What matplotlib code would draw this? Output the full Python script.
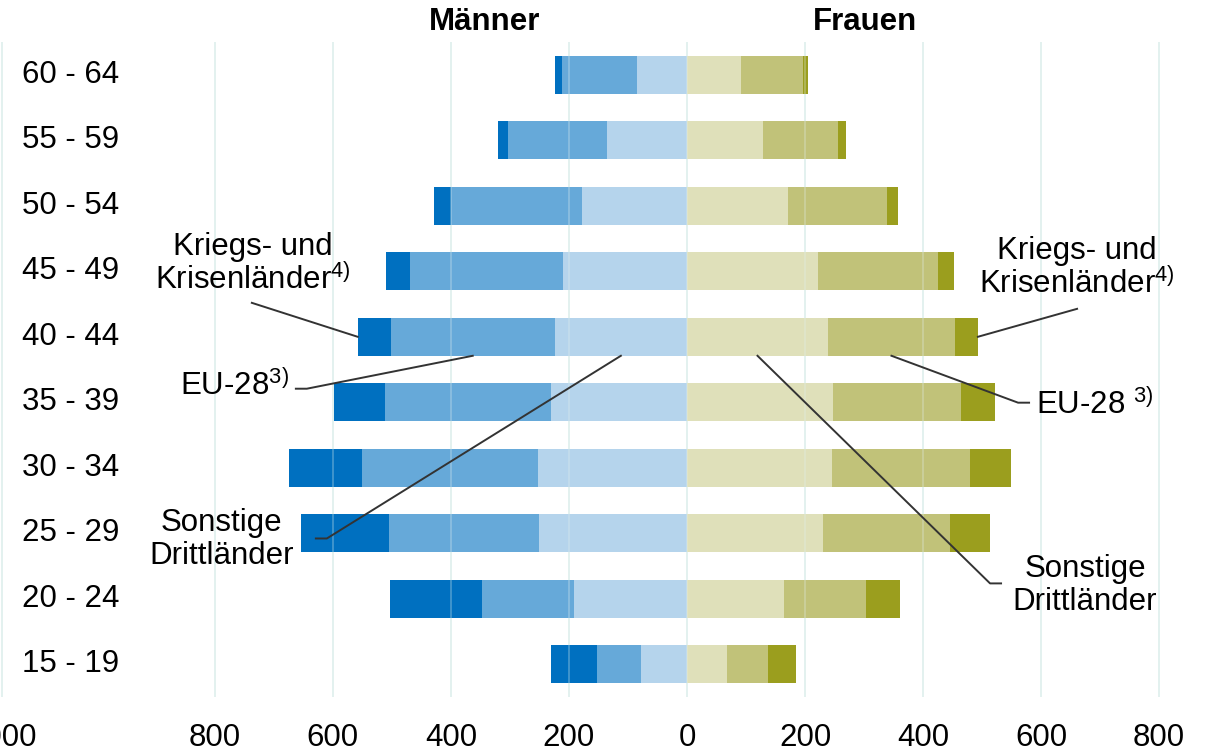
import numpy as np
import matplotlib.pyplot as plt

plt.rcParams['font.family'] = ['Liberation Sans', 'DejaVu Sans']
plt.rcParams['mathtext.fontset'] = 'custom'
plt.rcParams['mathtext.rm'] = 'Liberation Sans'

# age groups, bottom to top
ages = ['15 - 19', '20 - 24', '25 - 29', '30 - 34', '35 - 39',
        '40 - 44', '45 - 49', '50 - 54', '55 - 59', '60 - 64']

# Männer
m_sonstige = [78, 192, 251, 253, 231, 224, 210, 178, 136, 85]
m_eu28 = [75, 156, 254, 297, 281, 278, 259, 222, 168, 127]
m_krieg = [78, 156, 149, 125, 86, 56, 41, 29, 17, 12]

# Frauen
f_sonstige = [68, 164, 231, 246, 247, 239, 222, 171, 129, 92]
f_eu28 = [69, 139, 215, 234, 217, 215, 203, 168, 127, 105]
f_krieg = [47, 58, 68, 69, 58, 39, 27, 19, 14, 8]

tick_vals = [-1161, -800, -600, -400, -200, 0, 200, 400, 600, 800]
tick_text = ['', '800', '600', '400', '200', '0', '200', '400', '600', '800']

c_m = ['#b5d4ec', '#66a9d9', '#0070c0']
c_f = ['#dfe0ba', '#c1c279', '#9b9e1e']

fig = plt.figure(figsize=(12.14, 7.52), dpi=100)
ax = fig.add_axes([0, 0.0731, 1, 0.871])

y = np.arange(len(ages))
h = 0.58

ms = np.array(m_sonstige)
me = np.array(m_eu28)
mk = np.array(m_krieg)
fs = np.array(f_sonstige)
fe = np.array(f_eu28)
fk = np.array(f_krieg)

ax.barh(y, -ms, h, color=c_m[0], zorder=2)
ax.barh(y, -me, h, left=-ms, color=c_m[1], zorder=2)
ax.barh(y, -mk, h, left=-(ms + me), color=c_m[2], zorder=2)
ax.barh(y, fs, h, color=c_f[0], zorder=2)
ax.barh(y, fe, h, left=fs, color=c_f[1], zorder=2)
ax.barh(y, fk, h, left=fs + fe, color=c_f[2], zorder=2)

ax.set_xlim(-1164, 893)
ax.set_ylim(-0.5, 9.5)
for v in tick_vals:
    ax.axvline(v, color='#e2f1ef', lw=1.3, zorder=1)
    ax.axvline(v, color='#e2f1ef', lw=1.3, alpha=0.3, zorder=3)
ax.set_xticks(tick_vals)
ax.set_xticklabels(tick_text, fontsize=22.5)
ax.tick_params(axis='x', length=0, pad=19)
ax.set_yticks([])
for s in ax.spines.values():
    s.set_visible(False)
# the 1000 label sits half outside the left edge
fig.text(2 / 1214, 1 - 723.4 / 752, '1000', fontsize=22.5, ha='center', va='top')

for i, a in enumerate(ages):
    ax.text(-1044, i, a, fontsize=22.5, ha='center', va='center')

fs_ = 22.5
fig.text(485 / 1214, 1 - 22 / 752, 'Männer', fontsize=fs_, fontweight='bold', ha='center', va='center')
fig.text(865 / 1214, 1 - 22 / 752, 'Frauen', fontsize=fs_, fontweight='bold', ha='center', va='center')


def px(x, yy):
    return (x - 687) / 0.59, (664 - yy) / 65.6


lk = dict(color='#333333', lw=1.4, zorder=4)
r = 5  # 40-44 row
bot = r - h / 2

# left labels
ax.text(*px(253, 263), 'Kriegs- und\nKrisenländer$^{\\mathrm{4)}}$', fontsize=fs_, ha='center', va='center', linespacing=1.1)
x0, y0 = px(252, 302)
ax.plot([x0, -(ms[r] + me[r] + mk[r])], [y0, r], **lk)
ax.text(*px(235, 385), 'EU-28$^{\\mathrm{3)}}$', fontsize=fs_, ha='center', va='center')
a0, b0 = px(296, 388)
a1, _ = px(307, 388)
ax.plot([a0, a1, -(ms[r] + me[r] * 0.5)], [b0, b0, bot], **lk)
ax.text(*px(222, 539), 'Sonstige\nDrittländer', fontsize=fs_, ha='center', va='center', linespacing=1.1)
a0, b0 = px(316, 538)
a1, _ = px(327, 538)
ax.plot([a0, a1, -ms[r] * 0.5], [b0, b0, bot], **lk)

# right labels
ax.text(*px(1077, 267), 'Kriegs- und\nKrisenländer$^{\\mathrm{4)}}$', fontsize=fs_, ha='center', va='center', linespacing=1.1)
x0, y0 = px(1077, 308)
ax.plot([x0, fs[r] + fe[r] + fk[r]], [y0, r], **lk)
ax.text(*px(1095, 404), 'EU-28 $^{\\mathrm{3)}}$', fontsize=fs_, ha='center', va='center')
a0, b0 = px(1018, 402)
a1, _ = px(1029, 402)
ax.plot([fs[r] + fe[r] * 0.5, a0, a1], [bot, b0, b0], **lk)
ax.text(*px(1085, 585), 'Sonstige\nDrittländer', fontsize=fs_, ha='center', va='center', linespacing=1.1)
a0, b0 = px(990, 583)
a1, _ = px(1001, 583)
ax.plot([fs[r] * 0.5, a0, a1], [bot, b0, b0], **lk)

fig.savefig('out.png', dpi=100)
